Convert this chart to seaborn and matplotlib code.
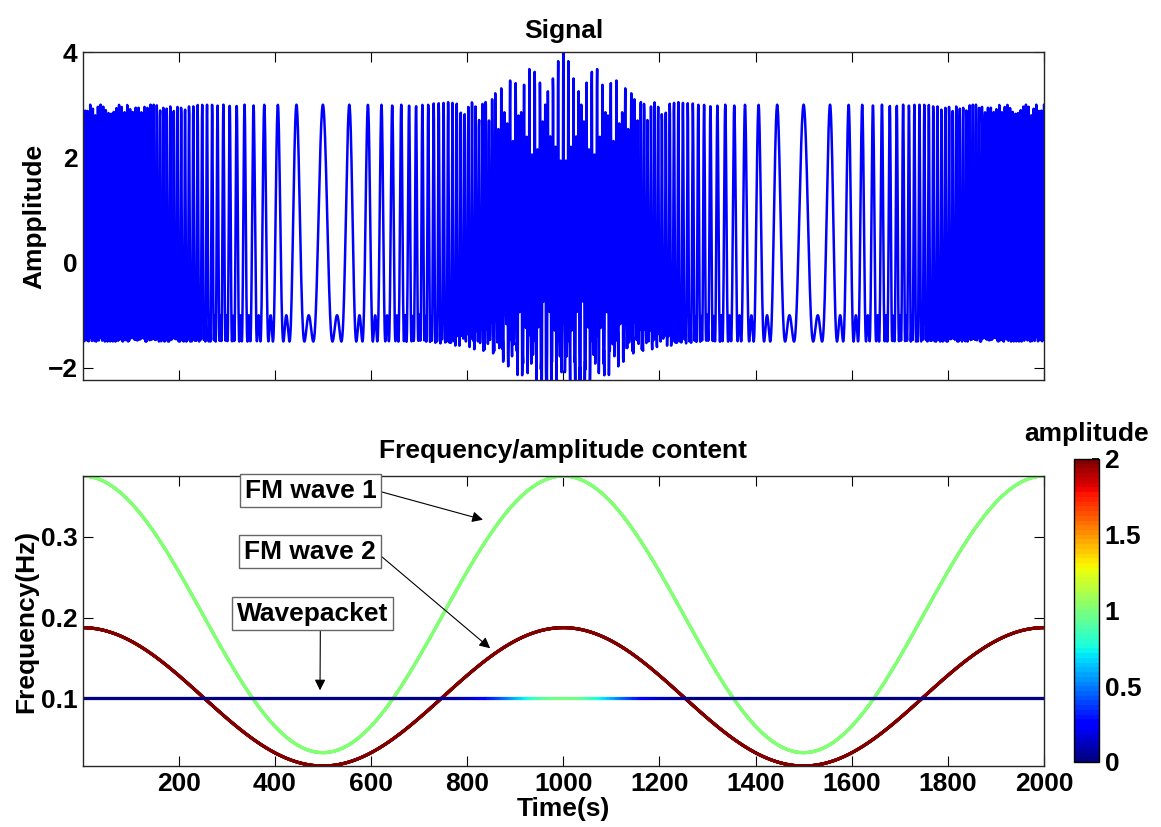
import numpy as np
import matplotlib
matplotlib.use("Agg")
from matplotlib import pyplot as plt
from matplotlib.collections import LineCollection
from matplotlib.colors import Normalize
from matplotlib.cm import ScalarMappable
import seaborn as sns

# time axis (s), two samples per second
t_start, t_end, t_step = 1, 2000, 0.5
# FM wave 1: instantaneous frequency swings between these values (Hz)
fm1_freq_range = [0.033, 0.375]
fm_period = 1000
# FM wave 2 sits at half the frequency of wave 1
fm2_ratio = 0.5
# amplitudes
fm_amplitudes = [1.0, 2.0]
# wavepacket: constant frequency, gaussian envelope
packet_freq = 0.1
packet_peak = 1.0
packet_center = 1000
packet_width = 100

signal_ylim = [-2.23, 4.0]
amp_range = [0, 2]
x_ticks = [200, 400, 600, 800, 1000, 1200, 1400, 1600, 1800, 2000]
signal_yticks = [-2, 0, 2, 4]
freq_yticks = [0.1, 0.2, 0.3]
cbar_ticks = [0, 0.5, 1, 1.5, 2]

ann_labels = ["FM wave 1", "FM wave 2", "Wavepacket"]
ann_text_xy = [(475, 0.357), (473, 0.2815), (479, 0.205)]
ann_tip_xy = [(833, 0.321), (848, 0.162), (494, 0.11)]
ann_relpos = [(1, 0.5), (1, 0.5), (0.55, 0)]

# build the signal from the parameters above
t = np.arange(t_start, t_end + t_step / 2, t_step)
fc = np.mean(fm1_freq_range)
fd = (fm1_freq_range[1] - fm1_freq_range[0]) / 2
f1 = fc + fd * np.cos(2 * np.pi * t / fm_period)
phase1 = 2 * np.pi * (fc * t + fd * fm_period / (2 * np.pi) * np.sin(2 * np.pi * t / fm_period))
f2 = fm2_ratio * f1
phase2 = fm2_ratio * phase1
envelope = packet_peak * np.exp(-(t - packet_center) ** 2 / (2 * packet_width ** 2))
f3 = np.full_like(t, packet_freq, dtype=float)
signal = (fm_amplitudes[0] * np.cos(phase1) + fm_amplitudes[1] * np.cos(phase2)
          + envelope * np.cos(2 * np.pi * packet_freq * (t - packet_center)))

sns.set_theme(style="ticks")
plt.rcParams['font.family'] = ['Liberation Sans', 'DejaVu Sans']
plt.rcParams['font.weight'] = 'bold'
plt.rcParams['axes.labelweight'] = 'bold'
plt.rcParams['axes.titleweight'] = 'bold'
plt.rcParams['text.color'] = 'black'
plt.rcParams['axes.labelcolor'] = 'black'
FS = 19

fig = plt.figure(figsize=(11.61, 8.27), dpi=100)
ax1 = fig.add_axes([0.0715, 0.5405, 0.8277, 0.3966])
ax2 = fig.add_axes([0.0715, 0.0738, 0.8277, 0.3506])
cax = fig.add_axes([0.9251, 0.0786, 0.0215, 0.3664])

for ax in (ax1, ax2):
    ax.tick_params(direction='in', length=7, width=0.8, top=True, right=True,
                   labelsize=FS, colors='black', pad=4)
    for s in ax.spines.values():
        s.set_color('0.15')
        s.set_linewidth(1.0)
        s.set_visible(True)

# top: raw signal
sns.lineplot(x=t, y=signal, ax=ax1, color=(0, 0, 1), linewidth=1.8, estimator=None)
ax1.set_xlim(t_start, t_end)
ax1.set_ylim(signal_ylim)
ax1.set_xticks(x_ticks)
ax1.set_xticklabels([])
ax1.set_yticks(signal_yticks)
ax1.set_yticklabels(['\u22122', '0', '2', '4'])
ax1.set_xlabel('')
ax1.set_ylabel('Ampplitude', fontsize=FS, labelpad=1)
ax1.set_title('Signal', fontsize=FS, pad=10)

# bottom: frequency curves coloured by amplitude
cmap = plt.get_cmap('jet', 64)
norm = Normalize(amp_range[0], amp_range[1])
curves = [(f1, np.full_like(f1, fm_amplitudes[0])),
          (f2, np.full_like(f2, fm_amplitudes[1])),
          (f3, envelope)]
for freq, amp in curves:
    pts = np.column_stack([t, freq]).reshape(-1, 1, 2)
    segs = np.concatenate([pts[:-1], pts[1:]], axis=1)
    lc = LineCollection(segs, cmap=cmap, norm=norm, linewidth=2.3, capstyle='round')
    lc.set_array((amp[:-1] + amp[1:]) / 2)
    ax2.add_collection(lc)

ax2.set_xlim(t_start, t_end)
ax2.set_ylim(f2.min(), f1.max())
ax2.set_xticks(x_ticks)
ax2.set_yticks(freq_yticks)
ax2.set_xlabel('Time(s)', fontsize=FS, labelpad=1)
ax2.set_ylabel('Frequency(Hz)', fontsize=FS, labelpad=2)
ax2.set_title('Frequency/amplitude content', fontsize=FS, pad=13)

for label, txy, tip, rp in zip(ann_labels, ann_text_xy, ann_tip_xy, ann_relpos):
    ax2.annotate(label, xy=tip, xytext=txy, fontsize=FS, fontweight='bold',
                 ha='center', va='center',
                 bbox=dict(boxstyle='square,pad=0.18', fc='white', ec='0.4', lw=1.0),
                 arrowprops=dict(arrowstyle='-|>', color='black', lw=0.8,
                                 relpos=rp, shrinkA=0, shrinkB=0, mutation_scale=16))

cb = fig.colorbar(ScalarMappable(norm=norm, cmap=cmap), cax=cax, ticks=cbar_ticks)
cb.ax.tick_params(direction='in', length=5, labelsize=FS, colors='black', pad=4)
cb.ax.set_yticklabels(['0', '0.5', '1', '1.5', '2'])
cb.outline.set_edgecolor('black')
cb.outline.set_linewidth(1.0)
cax.set_title('amplitude', fontsize=FS, pad=13)

fig.savefig('out.png', dpi=100)
